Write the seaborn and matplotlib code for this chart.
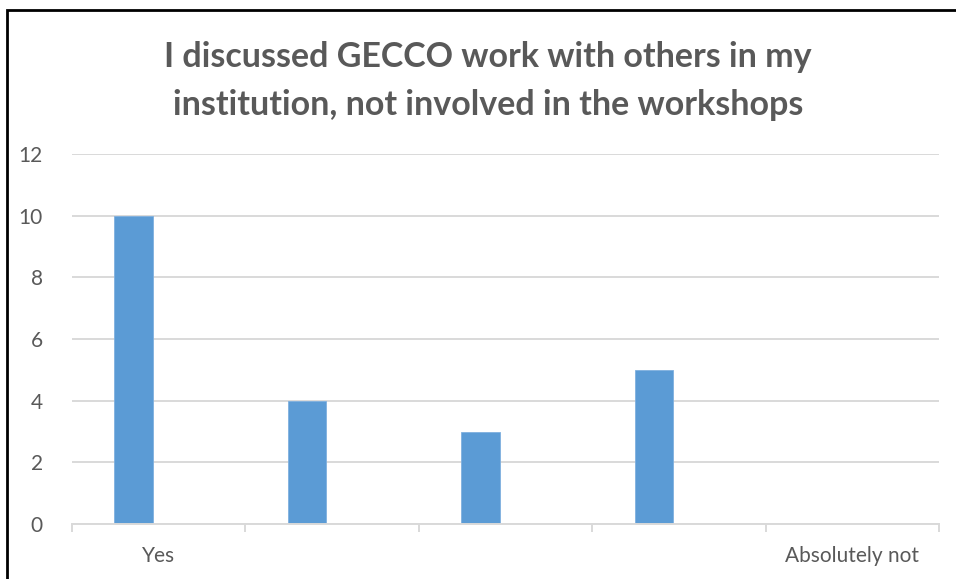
import matplotlib
matplotlib.use("Agg")
import matplotlib.pyplot as plt
import seaborn as sns
import pandas as pd
from matplotlib.patches import Rectangle

categories = ["Yes", "2", "3", "4", "Absolutely not"]
tick_labels = ["Yes", "", "", "", "Absolutely not"]
values = [10, 4, 3, 5, 0]
title = "I discussed GECCO work with others in my\ninstitution, not involved in the workshops"

sns.set_theme(style="white")
plt.rcParams['font.family'] = ['Lato', 'DejaVu Sans']

W, H = 956, 579
fig = plt.figure(figsize=(W / 100, H / 100), dpi=100)
ax = fig.add_axes([72 / W, (H - 524) / H, (939 - 72) / W, (524 - 154) / H])

df = pd.DataFrame({"cat": categories, "val": values})
sns.barplot(data=df, x="cat", y="val", ax=ax, color="#5b9bd5", width=0.223,
            saturation=1, errorbar=None)
for p in ax.patches:
    p.set_x(p.get_x() - 0.144)
    p.set_edgecolor("#7fb0df")
    p.set_linewidth(0.6)

ax.set_xlim(-0.5, len(categories) - 0.5)
ax.set_ylim(0, 12)
ax.set_yticks(range(0, 13, 2))
ax.set_yticklabels([str(v) for v in range(0, 13, 2)], color="#595959", fontsize=15)
ax.set_xticks(range(len(categories)))
ax.set_xticklabels(tick_labels, color="#595959", fontsize=15)
ax.tick_params(axis="x", which="major", length=0, pad=15.5)
ax.tick_params(axis="y", length=0, pad=21)
ax.set_xlabel("")
ax.set_ylabel("")

ax.grid(axis="y", color="#d9d9d9", linewidth=1.4)
ax.set_axisbelow(True)
for s in ["top", "right", "left"]:
    ax.spines[s].set_visible(False)
ax.spines["bottom"].set_color("#d9d9d9")
ax.spines["bottom"].set_linewidth(1.4)

# category boundary ticks
ax.set_xticks([i - 0.5 for i in range(len(categories) + 1)], minor=True)
ax.tick_params(axis="x", which="minor", bottom=True, direction="out",
               length=6, width=1.4, color="#d9d9d9")

fig.text(488 / W, 1 - 81 / H, title, ha="center", va="center", fontsize=24.5,
         fontweight="bold", color="#595959", linespacing=1.65)

fig.patches.append(Rectangle((7 / W, -0.1), 1.2, (H - 10) / H + 0.1,
                             transform=fig.transFigure, fill=False,
                             edgecolor="black", linewidth=2))

fig.savefig("out.png", dpi=100, facecolor="white")
